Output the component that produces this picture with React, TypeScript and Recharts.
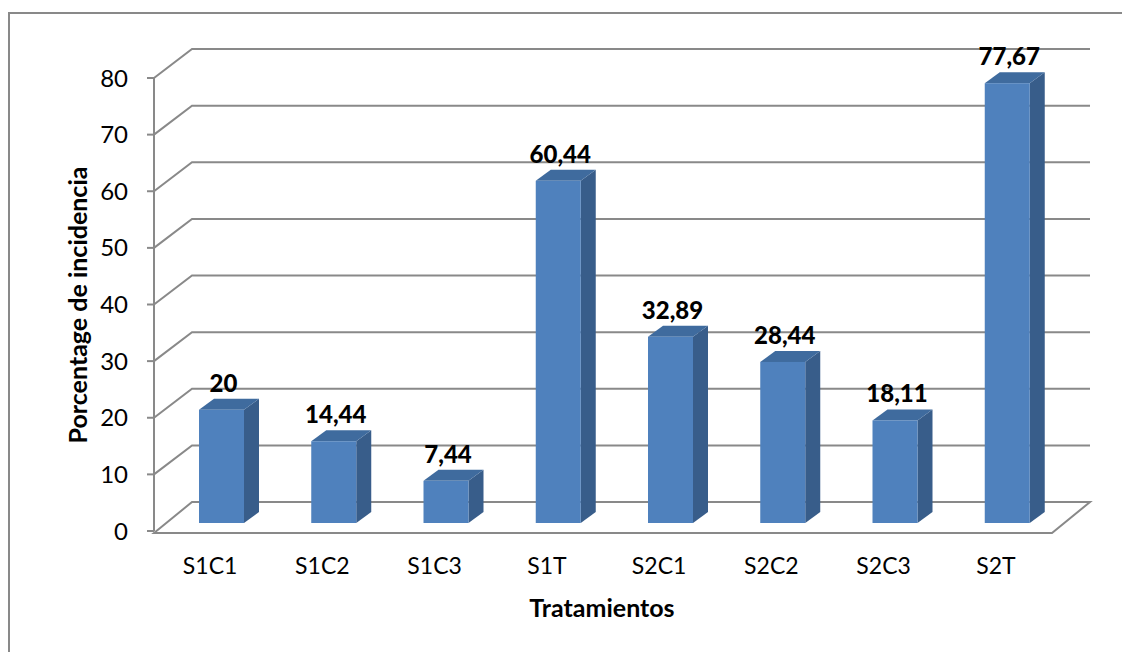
import React from 'react';
import { BarChart, Bar, XAxis, YAxis, CartesianGrid, LabelList, Label } from 'recharts';

const categories = ['S1C1', 'S1C2', 'S1C3', 'S1T', 'S2C1', 'S2C2', 'S2C3', 'S2T'];
const incidence = [20, 14.44, 7.44, 60.44, 32.89, 28.44, 18.11, 77.67];
const yTicks = [0, 10, 20, 30, 40, 50, 60, 70, 80];

const data = categories.map((name, i) => ({ name, value: incidence[i] }));

const GRID = '#898989';
const FRONT = '#4F81BD';
const SIDE = '#385D8A';
const TOP = '#3F6B9E';
// depth of the back wall and of the bars (pixels)
const WALL_DX = 38;
const WALL_DY = -29;
const BAR_OX = 11;
const BAR_OY = -8;
const BAR_DX = 15;
const BAR_DY = -11;
const PLOT_BOTTOM = 517;

const GridLine = (props: any) => {
  const { x1, y1, x2 } = props;
  const isFloor = Math.abs(y1 - PLOT_BOTTOM) < 1;
  const d = isFloor
    ? `M${x1},${y1 + 2} L${x1 + WALL_DX},${y1 + WALL_DY} L${x2 + WALL_DX},${y1 + WALL_DY} L${x2},${y1 + 2} Z`
    : `M${x1},${y1} L${x1 + WALL_DX},${y1 + WALL_DY} L${x2 + WALL_DX},${y1 + WALL_DY}`;
  return <path key={props.key} d={d} fill="none" stroke={GRID} strokeWidth={2} />;
};

const Box = (props: any) => {
  const { x, y, width, height } = props;
  const fx = x + BAR_OX;
  const fy = y + BAR_OY;
  const w = width;
  const h = height;
  return (
    <g>
      <polygon
        points={`${fx + w},${fy} ${fx + w + BAR_DX},${fy + BAR_DY} ${fx + w + BAR_DX},${fy + BAR_DY + h} ${fx + w},${fy + h}`}
        fill={SIDE}
      />
      <polygon
        points={`${fx},${fy} ${fx + BAR_DX},${fy + BAR_DY} ${fx + w + BAR_DX},${fy + BAR_DY} ${fx + w},${fy}`}
        fill={TOP}
      />
      <rect x={fx} y={fy} width={w} height={h} fill={FRONT} />
    </g>
  );
};

const ValueLabel = (props: any) => {
  const { x, y, width, value } = props;
  return (
    <text
      x={x + BAR_OX + width / 2 + 2}
      y={y + BAR_OY - 18}
      textAnchor="middle"
      fontWeight="900"
      fontSize={24}
      fill="#000"
    >
      {String(value).replace('.', ',')}
    </text>
  );
};

export default function App() {
  return (
    <div
      style={{
        marginTop: 4,
        width: 1120,
        height: 638,
        borderLeft: `2px solid ${GRID}`,
        borderTop: `2px solid ${GRID}`,
        fontFamily: 'Lato, "Open Sans", sans-serif',
      }}
    >
      <BarChart width={1120} height={638} data={data} margin={{ top: 64, right: 78, left: 84, bottom: 61 }}>
        <CartesianGrid vertical={false} horizontal={GridLine} />
        <XAxis
          dataKey="name"
          axisLine={false}
          tickLine={false}
          tickSize={0}
          tickMargin={27}
          height={60}
          tick={{ fill: '#000', fontSize: 23 }}
          interval={0}
        >
          <Label
            content={() => (
              <text x={592} y={603} textAnchor="middle" fontWeight="bold" fontSize={25} fill="#000">
                Tratamientos
              </text>
            )}
          />
        </XAxis>
        <YAxis
          domain={[0, 80]}
          ticks={yTicks}
          width={60}
          axisLine={{ stroke: GRID, strokeWidth: 2 }}
          tickLine={{ stroke: GRID, strokeWidth: 2 }}
          tickSize={7}
          tickMargin={19}
          tick={{ fill: '#000', fontSize: 24 }}
        >
          <Label
            content={() => (
              <text
                x={77}
                y={291}
                transform="rotate(-90 77 291)"
                textAnchor="middle"
                fontWeight="bold"
                fontSize={25}
                fill="#000"
              >
                Porcentage de incidencia
              </text>
            )}
          />
        </YAxis>
        <Bar dataKey="value" barSize={45} shape={Box} isAnimationActive={false}>
          <LabelList dataKey="value" content={ValueLabel} />
        </Bar>
      </BarChart>
    </div>
  );
}
